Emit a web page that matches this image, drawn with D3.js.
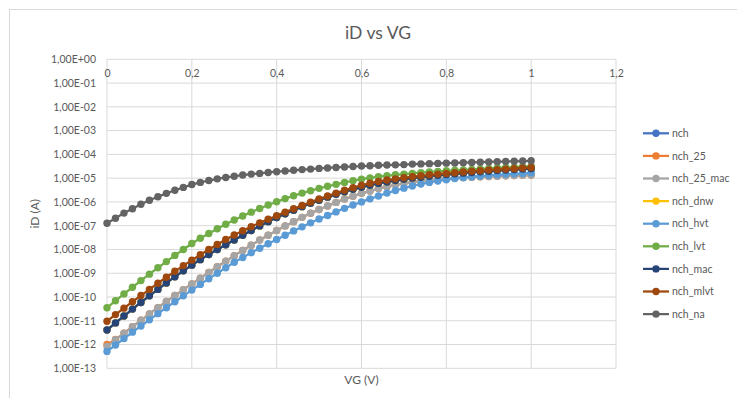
<!DOCTYPE html>
<meta charset="utf-8">
<style>
    body { margin: 0; background: #fff; }
    svg text { font-family: Lato, "Open Sans", sans-serif; fill: #595959; }
    .grid line { stroke: #d9d9d9; stroke-width: 1; }
    .axis path { display: none; }
    .axis text { font-size: 10.5px; }
</style>
<svg id="chart" width="737" height="398"></svg>
<script src="https://cdn.jsdelivr.net/npm/d3@7/dist/d3.min.js"></script>
<script>
    // VG sweep, 0 to 1 V in 0.02 V steps
    var vg = [0, 0.02, 0.04, 0.06, 0.08, 0.1, 0.12, 0.14, 0.16, 0.18,
        0.2, 0.22, 0.24, 0.26, 0.28, 0.3, 0.32, 0.34, 0.36, 0.38,
        0.4, 0.42, 0.44, 0.46, 0.48, 0.5, 0.52, 0.54, 0.56, 0.58,
        0.6, 0.62, 0.64, 0.66, 0.68, 0.7, 0.72, 0.74, 0.76, 0.78,
        0.8, 0.82, 0.84, 0.86, 0.88, 0.9, 0.92, 0.94, 0.96, 0.98, 1];

    // iD, stored as log10(A)
    var nch = [-11.39, -11.09, -10.80, -10.51, -10.23, -9.95, -9.68, -9.41, -9.15, -8.90,
        -8.66, -8.43, -8.21, -8.00, -7.80, -7.60, -7.40, -7.20, -7.01, -6.83,
        -6.66, -6.50, -6.35, -6.20, -6.06, -5.93, -5.80, -5.68, -5.57, -5.47,
        -5.38, -5.30, -5.22, -5.16, -5.10, -5.05, -5.00, -4.96, -4.92, -4.88,
        -4.85, -4.82, -4.79, -4.76, -4.73, -4.71, -4.68, -4.66, -4.64, -4.62, -4.60];
    var nch_25 = [-12.00, -11.79, -11.52, -11.25, -10.98, -10.71, -10.45, -10.19, -9.94, -9.69,
        -9.45, -9.21, -8.97, -8.73, -8.49, -8.26, -8.04, -7.82, -7.60, -7.40,
        -7.20, -7.01, -6.83, -6.65, -6.48, -6.32, -6.17, -6.02, -5.88, -5.76,
        -5.64, -5.54, -5.44, -5.36, -5.28, -5.22, -5.16, -5.11, -5.07, -5.04,
        -5.01, -4.99, -4.97, -4.96, -4.94, -4.93, -4.92, -4.90, -4.89, -4.88, -4.87];
    var nch_25_mac = [-12.08, -11.80, -11.52, -11.25, -10.98, -10.71, -10.45, -10.19, -9.94, -9.69,
        -9.45, -9.21, -8.97, -8.73, -8.49, -8.26, -8.04, -7.82, -7.60, -7.40,
        -7.20, -7.01, -6.83, -6.65, -6.48, -6.32, -6.17, -6.02, -5.88, -5.76,
        -5.64, -5.54, -5.44, -5.36, -5.28, -5.22, -5.16, -5.11, -5.07, -5.04,
        -5.01, -4.99, -4.97, -4.96, -4.94, -4.93, -4.92, -4.90, -4.89, -4.88, -4.87];
    var nch_dnw = [-11.39, -11.09, -10.80, -10.51, -10.23, -9.95, -9.68, -9.41, -9.15, -8.90,
        -8.66, -8.43, -8.21, -8.00, -7.80, -7.60, -7.40, -7.20, -7.01, -6.83,
        -6.66, -6.50, -6.35, -6.20, -6.06, -5.93, -5.80, -5.68, -5.57, -5.47,
        -5.38, -5.30, -5.22, -5.16, -5.10, -5.05, -5.00, -4.96, -4.92, -4.88,
        -4.85, -4.82, -4.79, -4.76, -4.73, -4.71, -4.68, -4.66, -4.64, -4.62, -4.60];
    var nch_hvt = [-12.29, -12.02, -11.75, -11.48, -11.22, -10.96, -10.70, -10.45, -10.20, -9.95,
        -9.71, -9.47, -9.23, -9.00, -8.77, -8.54, -8.34, -8.14, -7.95, -7.76,
        -7.58, -7.40, -7.22, -7.05, -6.88, -6.72, -6.57, -6.42, -6.27, -6.13,
        -6.00, -5.87, -5.75, -5.63, -5.52, -5.42, -5.33, -5.25, -5.18, -5.12,
        -5.07, -5.02, -4.98, -4.94, -4.91, -4.88, -4.86, -4.84, -4.82, -4.80, -4.78];
    var nch_lvt = [-10.45, -10.16, -9.87, -9.59, -9.31, -9.04, -8.77, -8.51, -8.25, -8.00,
        -7.75, -7.53, -7.33, -7.13, -6.94, -6.76, -6.59, -6.43, -6.28, -6.13,
        -5.99, -5.86, -5.74, -5.63, -5.53, -5.43, -5.34, -5.26, -5.18, -5.11,
        -5.04, -4.99, -4.94, -4.90, -4.86, -4.83, -4.80, -4.77, -4.74, -4.72,
        -4.69, -4.67, -4.65, -4.63, -4.61, -4.59, -4.57, -4.55, -4.54, -4.52, -4.50];
    var nch_mac = [-11.39, -11.09, -10.80, -10.51, -10.23, -9.95, -9.68, -9.41, -9.15, -8.90,
        -8.66, -8.43, -8.21, -8.00, -7.80, -7.60, -7.40, -7.20, -7.01, -6.83,
        -6.66, -6.50, -6.35, -6.20, -6.06, -5.93, -5.80, -5.68, -5.57, -5.47,
        -5.38, -5.30, -5.22, -5.16, -5.10, -5.05, -5.00, -4.96, -4.92, -4.88,
        -4.85, -4.82, -4.79, -4.76, -4.73, -4.71, -4.68, -4.66, -4.64, -4.62, -4.60];
    var nch_mlvt = [-11.02, -10.74, -10.47, -10.20, -9.94, -9.68, -9.42, -9.17, -8.92, -8.68,
        -8.45, -8.22, -8.00, -7.79, -7.58, -7.39, -7.21, -7.04, -6.88, -6.73,
        -6.58, -6.43, -6.29, -6.15, -6.01, -5.88, -5.75, -5.63, -5.51, -5.40,
        -5.30, -5.21, -5.14, -5.08, -5.03, -4.98, -4.94, -4.90, -4.86, -4.83,
        -4.80, -4.77, -4.74, -4.71, -4.69, -4.66, -4.64, -4.62, -4.60, -4.57, -4.55];
    var nch_na = [-6.90, -6.69, -6.47, -6.29, -6.10, -5.93, -5.78, -5.64, -5.51, -5.39,
        -5.27, -5.18, -5.10, -5.03, -4.97, -4.92, -4.87, -4.83, -4.80, -4.76,
        -4.73, -4.70, -4.67, -4.64, -4.62, -4.59, -4.57, -4.55, -4.53, -4.51,
        -4.49, -4.48, -4.46, -4.45, -4.44, -4.43, -4.41, -4.40, -4.39, -4.38,
        -4.37, -4.36, -4.35, -4.34, -4.33, -4.32, -4.31, -4.30, -4.29, -4.28, -4.27];

    var seriesNames = ["nch", "nch_25", "nch_25_mac", "nch_dnw", "nch_hvt",
        "nch_lvt", "nch_mac", "nch_mlvt", "nch_na"];
    var seriesColors = ["#4472c4", "#ed7d31", "#a5a5a5", "#ffc000", "#5b9bd5",
        "#70ad47", "#264478", "#9e480e", "#636363"];
    var seriesLogs = [nch, nch_25, nch_25_mac, nch_dnw, nch_hvt, nch_lvt, nch_mac, nch_mlvt, nch_na];

    var xTicks = [0, 0.2, 0.4, 0.6, 0.8, 1, 1.2];
    var yTicks = [1e0, 1e-1, 1e-2, 1e-3, 1e-4, 1e-5, 1e-6, 1e-7, 1e-8, 1e-9, 1e-10, 1e-11, 1e-12, 1e-13];

    var series = seriesNames.map(function (name, i) {
        return {
            name: name,
            color: seriesColors[i],
            values: vg.map(function (v, j) { return { x: v, y: Math.pow(10, seriesLogs[i][j]) }; })
        };
    });

    var plotLeft = 107, plotRight = 616, plotTop = 59.3, plotBottom = 368.3;

    var x = d3.scaleLinear().domain([0, 1.2]).range([plotLeft, plotRight]);
    var y = d3.scaleLog().domain([1e-13, 1]).range([plotBottom, plotTop]);

    function fmtY(d) {
        var e = Math.round(Math.log10(d));
        var s = e < 0 ? "-" : "+";
        var a = Math.abs(e);
        return "1,00E" + s + (a < 10 ? "0" + a : a);
    }
    function fmtX(d) { return String(d).replace(".", ","); }

    var svg = d3.select("#chart");

    // chart frame
    svg.append("rect")
        .attr("x", 9.5).attr("y", 9.5)
        .attr("width", 740).attr("height", 400)
        .attr("fill", "none").attr("stroke", "#d9d9d9");

    svg.append("text")
        .attr("x", 378).attr("y", 39)
        .attr("text-anchor", "middle")
        .style("font-size", "17.5px")
        .text("iD vs VG");

    // grid
    svg.append("g").attr("class", "grid")
        .selectAll("line").data(yTicks).enter().append("line")
        .attr("x1", plotLeft).attr("x2", plotRight)
        .attr("y1", function (d) { return y(d); }).attr("y2", function (d) { return y(d); });
    svg.append("g").attr("class", "grid")
        .selectAll("line").data(xTicks).enter().append("line")
        .attr("y1", plotTop).attr("y2", plotBottom)
        .attr("x1", function (d) { return x(d); }).attr("x2", function (d) { return x(d); });

    // axes (x labels sit under the top edge, where the axis crosses 1E+00)
    svg.append("g").attr("class", "axis")
        .attr("transform", "translate(" + plotLeft + ",0)")
        .call(d3.axisLeft(y).tickValues(yTicks).tickFormat(fmtY).tickSize(0).tickPadding(11));
    svg.append("g").attr("class", "axis")
        .attr("transform", "translate(0," + plotTop + ")")
        .call(d3.axisBottom(x).tickValues(xTicks).tickFormat(fmtX).tickSize(0).tickPadding(10));

    svg.append("text")
        .attr("x", (plotLeft + plotRight) / 2).attr("y", 384)
        .attr("text-anchor", "middle")
        .style("font-size", "12px")
        .text("VG (V)");
    svg.append("text")
        .attr("transform", "translate(39," + (plotTop + plotBottom) / 2 + ") rotate(-90)")
        .attr("text-anchor", "middle")
        .style("font-size", "12px")
        .text("iD (A)");

    // series
    var line = d3.line()
        .x(function (d) { return x(d.x); })
        .y(function (d) { return y(d.y); });

    var g = svg.selectAll("g.series")
        .data(series)
        .enter().append("g")
        .attr("class", "series");

    g.append("path")
        .attr("d", function (d) { return line(d.values); })
        .attr("fill", "none")
        .attr("stroke", function (d) { return d.color; })
        .attr("stroke-width", 2.25);

    g.each(function (s) {
        d3.select(this).selectAll("circle")
            .data(s.values)
            .enter().append("circle")
            .attr("cx", function (d) { return x(d.x); })
            .attr("cy", function (d) { return y(d.y); })
            .attr("r", 3.7)
            .attr("fill", s.color);
    });

    // legend
    var legend = svg.selectAll("g.legend")
        .data(series)
        .enter().append("g")
        .attr("class", "legend")
        .attr("transform", function (d, i) { return "translate(643," + (133.3 + i * 22.6) + ")"; });

    legend.append("line")
        .attr("x1", 0).attr("x2", 26)
        .attr("stroke", function (d) { return d.color; })
        .attr("stroke-width", 2.25);
    legend.append("circle")
        .attr("cx", 13).attr("r", 3.7)
        .attr("fill", function (d) { return d.color; });
    legend.append("text")
        .attr("x", 29).attr("dy", "0.35em")
        .style("font-size", "10.5px")
        .text(function (d) { return d.name; });
</script>
